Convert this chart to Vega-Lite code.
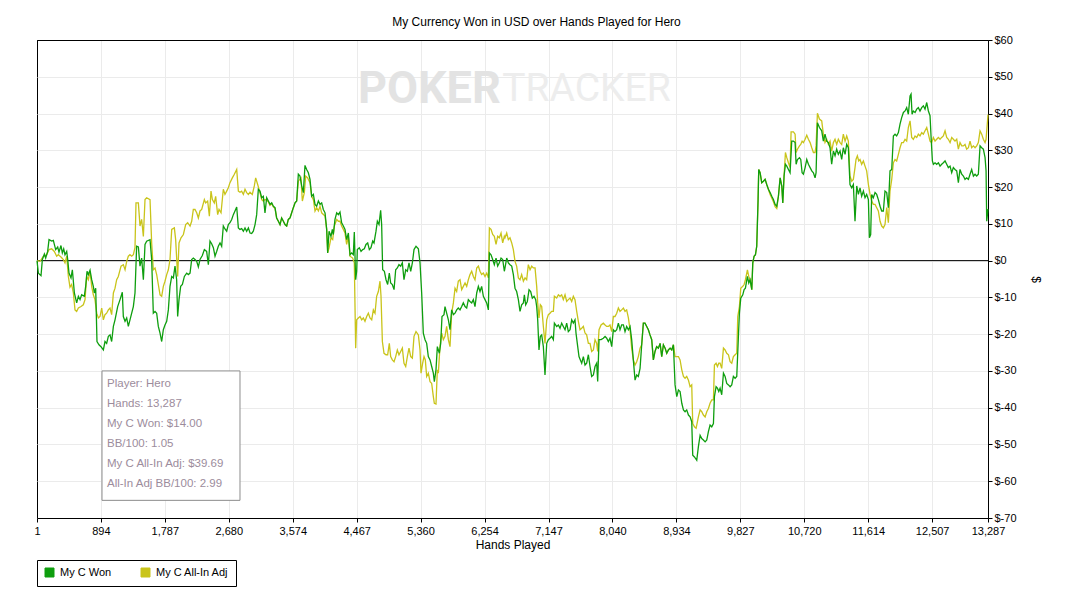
{
  "$schema": "https://vega.github.io/schema/vega-lite/v6.json",
  "width": 951,
  "height": 478,
  "autosize": {"type": "none"},
  "padding": {"left": 37, "top": 40, "right": 84, "bottom": 91},
  "background": "white",
  "title": {
    "text": "My Currency Won in USD over Hands Played for Hero",
    "font": "Liberation Sans",
    "fontSize": 12,
    "fontWeight": "normal",
    "color": "black",
    "offset": 5,
    "dx": 24
  },
  "datasets": {
    "adj": [
      {"h":1,"v":0},{"h":43,"v":-0.2},{"h":90,"v":1.2},{"h":136,"v":1.6},{"h":169,"v":3},{"h":206,"v":3.2},{"h":243,"v":2.5},{"h":276,"v":1.2},{"h":299,"v":1.6},{"h":336,"v":1},{"h":369,"v":0.3},{"h":392,"v":-0.6},{"h":416,"v":1.2},{"h":439,"v":-4.3},{"h":462,"v":-7.2},{"h":485,"v":-6.5},{"h":509,"v":-8.8},{"h":532,"v":-13.4},{"h":555,"v":-13.8},{"h":579,"v":-12.9},{"h":616,"v":-12.5},{"h":648,"v":-12},{"h":672,"v":-10.6},{"h":695,"v":-4.3},{"h":718,"v":-5.2},{"h":742,"v":-2.9},{"h":765,"v":-7},{"h":788,"v":-9.3},{"h":811,"v":-10.6},{"h":835,"v":-14.3},{"h":858,"v":-15.6},{"h":881,"v":-15.2},{"h":905,"v":-12.9},{"h":928,"v":-16.1},{"h":951,"v":-14.7},{"h":974,"v":-14.3},{"h":998,"v":-13.4},{"h":1021,"v":-12.9},{"h":1044,"v":-14.7},{"h":1068,"v":-8.8},{"h":1091,"v":-7.5},{"h":1114,"v":-5.2},{"h":1137,"v":-4.3},{"h":1175,"v":-1.5},{"h":1207,"v":-1.1},{"h":1231,"v":-2.5},{"h":1254,"v":-0.2},{"h":1277,"v":1.2},{"h":1300,"v":1.6},{"h":1324,"v":1.2},{"h":1347,"v":1.6},{"h":1370,"v":3.5},{"h":1384,"v":15.7},{"h":1417,"v":15.7},{"h":1440,"v":9.4},{"h":1463,"v":11.2},{"h":1487,"v":6.6},{"h":1510,"v":16.6},{"h":1533,"v":17.1},{"h":1580,"v":16.6},{"h":1603,"v":4.8},{"h":1626,"v":-2.5},{"h":1650,"v":-2},{"h":1673,"v":-3.8},{"h":1696,"v":-6.5},{"h":1720,"v":-9.3},{"h":1743,"v":-9.7},{"h":1766,"v":-7},{"h":1789,"v":-5.6},{"h":1813,"v":-3.8},{"h":1836,"v":-2.5},{"h":1859,"v":0.3},{"h":1883,"v":8.5},{"h":1920,"v":8.9},{"h":1938,"v":5.7},{"h":1966,"v":-4.3},{"h":1985,"v":4.8},{"h":2013,"v":6.2},{"h":2046,"v":7.1},{"h":2078,"v":9.8},{"h":2106,"v":10.3},{"h":2139,"v":9.4},{"h":2162,"v":10.7},{"h":2185,"v":13.9},
      {"h":2208,"v":13.9},{"h":2232,"v":13},{"h":2255,"v":11.6},{"h":2278,"v":13.5},{"h":2302,"v":13.9},{"h":2339,"v":16.6},{"h":2357,"v":15.7},{"h":2385,"v":16.2},{"h":2409,"v":12.1},{"h":2432,"v":18.9},{"h":2451,"v":16.6},{"h":2478,"v":15.7},{"h":2497,"v":17.5},{"h":2525,"v":12.5},{"h":2544,"v":13.9},{"h":2572,"v":13},{"h":2604,"v":19.4},{"h":2627,"v":18},{"h":2651,"v":18.9},{"h":2674,"v":19.8},{"h":2697,"v":21.2},{"h":2730,"v":22.5},{"h":2758,"v":23.5},{"h":2791,"v":24.8},{"h":2814,"v":18.9},{"h":2837,"v":18.6},{"h":2860,"v":18.9},{"h":2884,"v":18},{"h":2907,"v":19.4},{"h":2930,"v":18.5},{"h":2954,"v":18},{"h":2977,"v":18.6},{"h":3009,"v":18},{"h":3037,"v":20.3},{"h":3056,"v":22.5},{"h":3084,"v":20.7},{"h":3116,"v":18.5},{"h":3140,"v":16.6},{"h":3163,"v":16.2},{"h":3186,"v":16.6},{"h":3210,"v":16.5},{"h":3233,"v":16},{"h":3256,"v":15},{"h":3280,"v":15.5},{"h":3303,"v":14.6},{"h":3326,"v":14.2},{"h":3349,"v":11.6},{"h":3373,"v":10.7},{"h":3396,"v":9.8},{"h":3419,"v":11.6},{"h":3443,"v":10.7},{"h":3466,"v":9.8},{"h":3489,"v":9.4},{"h":3512,"v":11.2},{"h":3536,"v":11.6},{"h":3559,"v":13},{"h":3582,"v":14.4},{"h":3606,"v":15.7},{"h":3629,"v":16.2},{"h":3652,"v":21.6},{"h":3689,"v":22.5},{"h":3708,"v":16.2},{"h":3736,"v":18.5},{"h":3755,"v":23},{"h":3782,"v":22.5},{"h":3815,"v":21.2},{"h":3838,"v":17.5},{"h":3862,"v":16.6},{"h":3885,"v":13.5},{"h":3908,"v":14.4},{"h":3932,"v":13.5},{"h":3955,"v":14.8},{"h":3978,"v":13},{"h":4025,"v":12.1},{"h":4048,"v":8.5},{"h":4062,"v":2.1},{"h":4081,"v":3.5},{"h":4108,"v":6.2},{"h":4132,"v":5.7},{"h":4155,"v":9.4},{"h":4188,"v":11.2},{"h":4211,"v":10.7},{"h":4234,"v":10.7},{"h":4257,"v":9.4},{"h":4281,"v":8.5},{"h":4304,"v":7.5},{"h":4327,"v":4.4},{"h":4351,"v":6.6},
      {"h":4374,"v":1.2},{"h":4411,"v":0.7},{"h":4434,"v":-0.6},{"h":4453,"v":-23.8},{"h":4467,"v":-16.1},{"h":4490,"v":-15.6},{"h":4514,"v":-15.2},{"h":4537,"v":-16.1},{"h":4560,"v":-15.6},{"h":4583,"v":-16.5},{"h":4607,"v":-15.2},{"h":4630,"v":-14.3},{"h":4653,"v":-15.6},{"h":4677,"v":-16.1},{"h":4700,"v":-13.4},{"h":4723,"v":-14.3},{"h":4746,"v":-9.7},{"h":4770,"v":-8.4},{"h":4793,"v":-5.6},{"h":4807,"v":-9.7},{"h":4826,"v":-22},{"h":4849,"v":-25.2},{"h":4877,"v":-25.6},{"h":4900,"v":-25.6},{"h":4923,"v":-22.5},{"h":4942,"v":-26.1},{"h":4965,"v":-27},{"h":4989,"v":-27.5},{"h":5012,"v":-26.1},{"h":5035,"v":-24.3},{"h":5058,"v":-25.6},{"h":5082,"v":-24.7},{"h":5105,"v":-23.8},{"h":5128,"v":-27.9},{"h":5152,"v":-28.8},{"h":5175,"v":-26.1},{"h":5198,"v":-23.8},{"h":5222,"v":-26.1},{"h":5245,"v":-26.5},{"h":5268,"v":-20.6},{"h":5296,"v":-19.3},{"h":5329,"v":-20.2},{"h":5352,"v":-24.3},{"h":5366,"v":-30.6},{"h":5389,"v":-27.9},{"h":5408,"v":-26.1},{"h":5426,"v":-27},{"h":5445,"v":-31.5},{"h":5468,"v":-30.6},{"h":5492,"v":-32.9},{"h":5515,"v":-33.4},{"h":5538,"v":-37},{"h":5552,"v":-38.8},{"h":5575,"v":-39},{"h":5594,"v":-29.7},{"h":5608,"v":-30.6},{"h":5631,"v":-23.4},{"h":5655,"v":-19.7},{"h":5678,"v":-21.5},{"h":5701,"v":-20.6},{"h":5724,"v":-17.9},{"h":5748,"v":-21.5},{"h":5771,"v":-23.4},{"h":5794,"v":-14.3},{"h":5818,"v":-11.5},{"h":5841,"v":-7.5},{"h":5864,"v":-8.4},{"h":5887,"v":-5.6},{"h":5911,"v":-5.2},{"h":5934,"v":-7.9},{"h":5957,"v":-7},{"h":5981,"v":-6.1},{"h":6004,"v":-7},{"h":6027,"v":-5.2},{"h":6050,"v":-3.8},{"h":6074,"v":-2.9},{"h":6097,"v":-4.3},{"h":6120,"v":-5.2},{"h":6144,"v":-2},{"h":6167,"v":-1.5},{"h":6190,"v":-2.9},{"h":6213,"v":-3.8},{"h":6237,"v":-3.4},{"h":6260,"v":-4.3},{"h":6283,"v":-3.4},{"h":6307,"v":-4.7},{"h":6321,"v":8.9},{"h":6344,"v":8.5},{"h":6367,"v":7.1},{"h":6390,"v":6.6},{"h":6414,"v":4.4},{"h":6437,"v":6.6},{"h":6460,"v":6.2},{"h":6484,"v":7.5},{"h":6507,"v":4.8},{"h":6530,"v":6.6},
      {"h":6539,"v":6.2},{"h":6563,"v":7.5},{"h":6586,"v":5.7},{"h":6609,"v":6.2},{"h":6633,"v":4.8},{"h":6656,"v":3},{"h":6679,"v":-0.2},{"h":6702,"v":-1.5},{"h":6726,"v":-4.7},{"h":6749,"v":-5.2},{"h":6772,"v":-3.8},{"h":6796,"v":-5.6},{"h":6819,"v":-4.7},{"h":6842,"v":-5.2},{"h":6865,"v":-1.1},{"h":6889,"v":-2.5},{"h":6912,"v":-1.5},{"h":6935,"v":-2},{"h":6959,"v":-2},{"h":6982,"v":-7},{"h":6996,"v":-11.5},{"h":7014,"v":-15.6},{"h":7033,"v":-12},{"h":7052,"v":-12.5},{"h":7075,"v":-17.9},{"h":7098,"v":-22.5},{"h":7122,"v":-16.1},{"h":7145,"v":-14.7},{"h":7168,"v":-14.3},{"h":7191,"v":-13.8},{"h":7215,"v":-13.8},{"h":7229,"v":-9.7},{"h":7261,"v":-10.2},{"h":7285,"v":-9.3},{"h":7308,"v":-9.7},{"h":7331,"v":-9.3},{"h":7354,"v":-10.6},{"h":7378,"v":-9.3},{"h":7401,"v":-11.1},{"h":7424,"v":-10.6},{"h":7448,"v":-10.2},{"h":7471,"v":-11.1},{"h":7494,"v":-9.7},{"h":7517,"v":-10.6},{"h":7541,"v":-13.8},{"h":7564,"v":-16.5},{"h":7587,"v":-18.8},{"h":7611,"v":-18.4},{"h":7634,"v":-17.9},{"h":7657,"v":-19.7},{"h":7680,"v":-20.2},{"h":7704,"v":-22.5},{"h":7727,"v":-22.5},{"h":7750,"v":-24.7},{"h":7774,"v":-24.3},{"h":7797,"v":-21.5},{"h":7820,"v":-22.5},{"h":7834,"v":-24.7},{"h":7853,"v":-18.8},{"h":7881,"v":-17.5},{"h":7913,"v":-17},{"h":7937,"v":-17.5},{"h":7960,"v":-17.9},{"h":7983,"v":-17.9},{"h":8006,"v":-17.5},{"h":8030,"v":-19.3},{"h":8053,"v":-15.2},{"h":8076,"v":-15.2},{"h":8100,"v":-14.3},{"h":8123,"v":-12.9},{"h":8146,"v":-13.8},{"h":8169,"v":-13.4},{"h":8193,"v":-12.9},{"h":8216,"v":-13.8},{"h":8239,"v":-13.4},{"h":8263,"v":-15.6},{"h":8286,"v":-18.8},{"h":8309,"v":-23.8},{"h":8332,"v":-27},{"h":8356,"v":-28.4},{"h":8379,"v":-27.5},{"h":8402,"v":-26.1},{"h":8426,"v":-23.8},{"h":8449,"v":-22.9},{"h":8472,"v":-17},{"h":8495,"v":-17},{"h":8519,"v":-17.9},{"h":8542,"v":-18.8},{"h":8565,"v":-20.2},{"h":8589,"v":-21.5},{"h":8612,"v":-27},{"h":8635,"v":-24.7},{"h":8658,"v":-23.4},{"h":8682,"v":-23.8},
      {"h":8706,"v":-22.5},{"h":8729,"v":-26.1},{"h":8752,"v":-22.9},{"h":8776,"v":-23.8},{"h":8799,"v":-25.2},{"h":8822,"v":-24.3},{"h":8846,"v":-23.8},{"h":8869,"v":-24.3},{"h":8892,"v":-22.9},{"h":8915,"v":-26.1},{"h":8939,"v":-26.1},{"h":8962,"v":-26.1},{"h":8985,"v":-27},{"h":9009,"v":-29.7},{"h":9032,"v":-31.5},{"h":9055,"v":-32},{"h":9078,"v":-31.5},{"h":9102,"v":-32.5},{"h":9125,"v":-34.3},{"h":9148,"v":-33.8},{"h":9162,"v":-44.3},{"h":9186,"v":-45.2},{"h":9209,"v":-45.6},{"h":9241,"v":-42.5},{"h":9265,"v":-40.6},{"h":9288,"v":-41.1},{"h":9311,"v":-42},{"h":9335,"v":-42.5},{"h":9358,"v":-41.1},{"h":9381,"v":-40.2},{"h":9404,"v":-38.8},{"h":9428,"v":-37.9},{"h":9451,"v":-37.9},{"h":9465,"v":-28.4},{"h":9488,"v":-27.9},{"h":9507,"v":-28.8},{"h":9526,"v":-27.9},{"h":9544,"v":-27.9},{"h":9567,"v":-29.3},{"h":9591,"v":-23.8},{"h":9614,"v":-24.3},{"h":9637,"v":-25.2},{"h":9661,"v":-25.6},{"h":9684,"v":-27.5},{"h":9707,"v":-27.9},{"h":9730,"v":-26.1},{"h":9754,"v":-25.6},{"h":9777,"v":-25.2},{"h":9791,"v":-15.2},{"h":9814,"v":-12.5},{"h":9833,"v":-7.5},{"h":9861,"v":-7},{"h":9880,"v":-6.5},{"h":9898,"v":-5.2},{"h":9926,"v":-2.5},{"h":9945,"v":-4.3},{"h":9963,"v":-5.2},{"h":9987,"v":-7.9},{"h":10001,"v":-0.6},{"h":10019,"v":1.2},{"h":10038,"v":1.6},{"h":10056,"v":3.9},{"h":10075,"v":16.6},{"h":10084,"v":24.8},{"h":10103,"v":23.9},{"h":10126,"v":21.2},{"h":10150,"v":21.6},{"h":10173,"v":22.1},{"h":10196,"v":20.7},{"h":10219,"v":19.4},{"h":10243,"v":18},{"h":10266,"v":17},{"h":10289,"v":16},{"h":10313,"v":14.7},{"h":10336,"v":14.2},{"h":10359,"v":17.5},{"h":10383,"v":22.5},{"h":10406,"v":20.3},{"h":10420,"v":15.7},{"h":10438,"v":23},{"h":10457,"v":29.4},{"h":10476,"v":28},{"h":10499,"v":26.6},{"h":10522,"v":25.3},{"h":10536,"v":35},{"h":10569,"v":35},{"h":10592,"v":34.4},{"h":10606,"v":29.4},{"h":10625,"v":30.3},{"h":10653,"v":31.2},{"h":10671,"v":31.6},{"h":10690,"v":32.5},{"h":10708,"v":32.1},{"h":10732,"v":33},{"h":10755,"v":34.1},{"h":10778,"v":33},{"h":10802,"v":32.1},{"h":10825,"v":30.7},{"h":10848,"v":29.4},{"h":10871,"v":29.4},{"h":10885,"v":31.2},{"h":10904,"v":40.1},{"h":10932,"v":38.5},
      {"h":10964,"v":38},{"h":10987,"v":34.4},{"h":11010,"v":32.1},{"h":11033,"v":33},{"h":11057,"v":31.6},{"h":11080,"v":32.5},{"h":11103,"v":29.8},{"h":11127,"v":32.1},{"h":11150,"v":33},{"h":11173,"v":31.6},{"h":11196,"v":33},{"h":11220,"v":32.1},{"h":11243,"v":31.6},{"h":11266,"v":34.4},{"h":11290,"v":32.5},{"h":11313,"v":33.9},{"h":11336,"v":32.5},{"h":11359,"v":23},{"h":11383,"v":21.6},{"h":11406,"v":22.1},{"h":11429,"v":25.3},{"h":11443,"v":27.5},{"h":11462,"v":28.5},{"h":11481,"v":27.1},{"h":11499,"v":27.5},{"h":11522,"v":26.2},{"h":11546,"v":27.1},{"h":11569,"v":25.7},{"h":11592,"v":24.4},{"h":11616,"v":20.7},{"h":11639,"v":18},{"h":11662,"v":16.2},{"h":11685,"v":15.3},{"h":11709,"v":15.3},{"h":11732,"v":14.4},{"h":11755,"v":13.5},{"h":11779,"v":10.7},{"h":11802,"v":9.4},{"h":11825,"v":8.9},{"h":11848,"v":9.8},{"h":11872,"v":14.4},{"h":11895,"v":10.3},{"h":11918,"v":18.9},{"h":11942,"v":22.1},{"h":11965,"v":26.6},{"h":11988,"v":27.5},{"h":12011,"v":27.1},{"h":12035,"v":28.9},{"h":12058,"v":30.7},{"h":12081,"v":32.1},{"h":12105,"v":32.1},{"h":12128,"v":33},{"h":12151,"v":32.5},{"h":12174,"v":36.2},{"h":12198,"v":38},{"h":12221,"v":33.5},{"h":12244,"v":33},{"h":12268,"v":33.9},{"h":12291,"v":33.5},{"h":12314,"v":34.4},{"h":12337,"v":33.9},{"h":12361,"v":34.8},{"h":12384,"v":34.4},{"h":12407,"v":35.3},{"h":12431,"v":36.2},{"h":12454,"v":34.4},{"h":12477,"v":32.5},{"h":12500,"v":32.1},{"h":12524,"v":33.5},{"h":12547,"v":32.5},{"h":12570,"v":33},{"h":12594,"v":33.5},{"h":12617,"v":33},{"h":12640,"v":33.5},{"h":12663,"v":33.9},{"h":12687,"v":35.3},{"h":12710,"v":33.5},{"h":12733,"v":33},{"h":12757,"v":32.1},{"h":12780,"v":33.5},{"h":12803,"v":33},{"h":12826,"v":32.5},{"h":12850,"v":33},{"h":12873,"v":30.3},{"h":12896,"v":32.1},{"h":12920,"v":31.2},{"h":12943,"v":31.2},{"h":12966,"v":31.6},{"h":12989,"v":30.3},{"h":13013,"v":30.7},{"h":13036,"v":32.5},{"h":13059,"v":30.7},{"h":13083,"v":31.2},{"h":13106,"v":30.7},{"h":13129,"v":31.2},{"h":13152,"v":32.1},{"h":13176,"v":35.3},{"h":13199,"v":34.4},{"h":13222,"v":33},{"h":13246,"v":32.1},{"h":13260,"v":33},{"h":13287,"v":39.7}
    ],
    "won": [
      {"h":1,"v":0},{"h":20,"v":-3.4},{"h":57,"v":-4.1},{"h":76,"v":0.3},{"h":104,"v":1.8},{"h":122,"v":0.7},{"h":150,"v":2.5},{"h":169,"v":5.7},{"h":206,"v":5.3},{"h":229,"v":5.5},{"h":262,"v":3},{"h":290,"v":3.7},{"h":308,"v":2.3},{"h":336,"v":4.1},{"h":355,"v":2.1},{"h":374,"v":3.2},{"h":392,"v":1.6},{"h":416,"v":2.5},{"h":430,"v":0.3},{"h":448,"v":-3.4},{"h":476,"v":-4.7},{"h":495,"v":-2.5},{"h":523,"v":-8.8},{"h":555,"v":-11.5},{"h":579,"v":-9.7},{"h":602,"v":-10.6},{"h":625,"v":-9.3},{"h":662,"v":-9.7},{"h":681,"v":-7},{"h":700,"v":-2.9},{"h":718,"v":-3.8},{"h":742,"v":-2.6},{"h":765,"v":-5.2},{"h":788,"v":-7},{"h":802,"v":-8.8},{"h":821,"v":-7.5},{"h":839,"v":-22},{"h":867,"v":-22.9},{"h":895,"v":-23.4},{"h":928,"v":-24.3},{"h":951,"v":-22},{"h":974,"v":-22.5},{"h":998,"v":-20.6},{"h":1021,"v":-20.2},{"h":1044,"v":-22},{"h":1068,"v":-17.9},{"h":1091,"v":-16.1},{"h":1128,"v":-12.5},{"h":1161,"v":-10.6},{"h":1193,"v":-8.6},{"h":1207,"v":-15.2},{"h":1231,"v":-16.5},{"h":1254,"v":-15.6},{"h":1277,"v":-17.9},{"h":1300,"v":-16.1},{"h":1324,"v":-14.3},{"h":1347,"v":-12.5},{"h":1370,"v":-8.8},{"h":1393,"v":3.9},{"h":1417,"v":3.7},{"h":1440,"v":-1.5},{"h":1463,"v":0.7},{"h":1487,"v":-5.2},{"h":1510,"v":4.4},{"h":1533,"v":5.3},{"h":1580,"v":5.7},{"h":1603,"v":0.3},{"h":1626,"v":-14.3},{"h":1650,"v":-13.8},{"h":1673,"v":-14.3},{"h":1696,"v":-17.9},{"h":1720,"v":-19.7},{"h":1743,"v":-22},{"h":1766,"v":-18.8},{"h":1789,"v":-17.5},{"h":1813,"v":-16.5},{"h":1836,"v":-13.4},{"h":1859,"v":-7},{"h":1883,"v":-4.3},{"h":1906,"v":-4.7},{"h":1929,"v":-1.5},{"h":1952,"v":-5.2},{"h":1966,"v":-15.2},{"h":1985,"v":-10.6},{"h":2008,"v":-7},{"h":2032,"v":-6.5},{"h":2060,"v":-4.3},{"h":2092,"v":-3.4},{"h":2115,"v":-3.8},{"h":2139,"v":-3.4},{"h":2162,"v":0.3},{"h":2185,"v":0.7},
      {"h":2208,"v":0.3},{"h":2232,"v":-0.2},{"h":2255,"v":-1.7},{"h":2278,"v":0.3},{"h":2311,"v":1.4},{"h":2339,"v":3},{"h":2371,"v":2.5},{"h":2395,"v":-1.1},{"h":2418,"v":5.3},{"h":2441,"v":4.6},{"h":2465,"v":3.5},{"h":2488,"v":1.2},{"h":2511,"v":2.5},{"h":2534,"v":3.9},{"h":2558,"v":4.8},{"h":2581,"v":3.9},{"h":2604,"v":9.4},{"h":2627,"v":8.6},{"h":2651,"v":8},{"h":2674,"v":9.8},{"h":2697,"v":10.3},{"h":2721,"v":11.2},{"h":2744,"v":12.5},{"h":2767,"v":13.5},{"h":2791,"v":14.6},{"h":2814,"v":8.9},{"h":2837,"v":8.5},{"h":2860,"v":8.7},{"h":2884,"v":8},{"h":2907,"v":8.9},{"h":2930,"v":8},{"h":2954,"v":8.9},{"h":2977,"v":7.5},{"h":3000,"v":7.4},{"h":3023,"v":8},{"h":3047,"v":9.8},{"h":3070,"v":12.5},{"h":3093,"v":19.4},{"h":3116,"v":18.9},{"h":3140,"v":17.1},{"h":3163,"v":17.5},{"h":3186,"v":13},{"h":3210,"v":17.1},{"h":3233,"v":16.2},{"h":3256,"v":15.3},{"h":3280,"v":15.7},{"h":3303,"v":14.8},{"h":3326,"v":14.4},{"h":3349,"v":11.6},{"h":3373,"v":10.7},{"h":3396,"v":9.8},{"h":3419,"v":11.6},{"h":3443,"v":10.7},{"h":3466,"v":9.8},{"h":3489,"v":9.4},{"h":3512,"v":11.2},{"h":3536,"v":11.6},{"h":3559,"v":13},{"h":3582,"v":14.4},{"h":3606,"v":15.7},{"h":3629,"v":16.2},{"h":3652,"v":23.5},{"h":3675,"v":23},{"h":3699,"v":20.3},{"h":3722,"v":18.5},{"h":3745,"v":25.9},{"h":3768,"v":24.8},{"h":3792,"v":23.9},{"h":3815,"v":22.1},{"h":3838,"v":17.5},{"h":3862,"v":18},{"h":3885,"v":15.3},{"h":3908,"v":14.8},{"h":3932,"v":16.2},{"h":3955,"v":15.3},{"h":3978,"v":15.7},{"h":4001,"v":13.9},{"h":4025,"v":13},{"h":4048,"v":8.5},{"h":4062,"v":2.1},{"h":4081,"v":8},{"h":4108,"v":6.6},{"h":4127,"v":8.5},{"h":4141,"v":7.1},{"h":4164,"v":11.2},{"h":4188,"v":13},{"h":4211,"v":12.5},{"h":4234,"v":13.2},{"h":4257,"v":10.3},{"h":4281,"v":9.4},{"h":4304,"v":8.5},{"h":4327,"v":5.7},{"h":4351,"v":7.5},
      {"h":4374,"v":1.6},{"h":4397,"v":2.1},{"h":4420,"v":1.6},{"h":4434,"v":7.8},{"h":4453,"v":-5.2},{"h":4467,"v":-2.9},{"h":4476,"v":3},{"h":4504,"v":3.5},{"h":4528,"v":2.5},{"h":4551,"v":3},{"h":4574,"v":3.2},{"h":4597,"v":4.4},{"h":4621,"v":4.8},{"h":4644,"v":3},{"h":4667,"v":3.5},{"h":4691,"v":5.3},{"h":4709,"v":4.8},{"h":4737,"v":8},{"h":4756,"v":10.7},{"h":4779,"v":9.8},{"h":4802,"v":13.7},{"h":4816,"v":9.8},{"h":4830,"v":-2.5},{"h":4854,"v":-2.9},{"h":4877,"v":-5.2},{"h":4900,"v":-6.5},{"h":4923,"v":-3.4},{"h":4942,"v":-6.1},{"h":4965,"v":-6.5},{"h":4989,"v":-7.9},{"h":5012,"v":-2.5},{"h":5035,"v":-2},{"h":5058,"v":-1.1},{"h":5082,"v":-1.5},{"h":5105,"v":-0.6},{"h":5128,"v":-5.2},{"h":5152,"v":-2.5},{"h":5175,"v":-2.9},{"h":5198,"v":-0.6},{"h":5222,"v":-2.9},{"h":5245,"v":-0.6},{"h":5268,"v":3},{"h":5296,"v":3.9},{"h":5329,"v":3.2},{"h":5352,"v":-0.6},{"h":5375,"v":-8.8},{"h":5398,"v":-19.7},{"h":5422,"v":-21.5},{"h":5445,"v":-22.5},{"h":5468,"v":-26.1},{"h":5492,"v":-27},{"h":5515,"v":-28.8},{"h":5538,"v":-30.6},{"h":5552,"v":-32.9},{"h":5575,"v":-29.7},{"h":5594,"v":-23.4},{"h":5622,"v":-25.2},{"h":5641,"v":-22.5},{"h":5659,"v":-15.2},{"h":5687,"v":-14.7},{"h":5701,"v":-12.5},{"h":5724,"v":-14.3},{"h":5748,"v":-16.1},{"h":5771,"v":-18.8},{"h":5794,"v":-13.4},{"h":5818,"v":-14.7},{"h":5841,"v":-14.3},{"h":5864,"v":-13.4},{"h":5887,"v":-12.9},{"h":5911,"v":-13.4},{"h":5934,"v":-12.5},{"h":5957,"v":-11.5},{"h":5981,"v":-12.5},{"h":6004,"v":-12.9},{"h":6027,"v":-10.6},{"h":6050,"v":-11.1},{"h":6074,"v":-11.5},{"h":6097,"v":-10.6},{"h":6120,"v":-12.5},{"h":6144,"v":-8.8},{"h":6167,"v":-7},{"h":6190,"v":-8.4},{"h":6213,"v":-7},{"h":6237,"v":-9.7},{"h":6260,"v":-10.6},{"h":6283,"v":-11.5},{"h":6307,"v":-13.4},{"h":6321,"v":2.1},{"h":6344,"v":1.6},{"h":6367,"v":0.3},{"h":6390,"v":-1.1},{"h":6414,"v":0.7},{"h":6437,"v":-1.5},{"h":6460,"v":-0.6},{"h":6484,"v":0.7},{"h":6507,"v":0.3},{"h":6530,"v":-2.9},
      {"h":6539,"v":-2},{"h":6563,"v":0.7},{"h":6586,"v":-0.6},{"h":6609,"v":-1.1},{"h":6633,"v":-1.5},{"h":6656,"v":-3.8},{"h":6679,"v":-7.5},{"h":6702,"v":-8.4},{"h":6726,"v":-10.6},{"h":6749,"v":-13.8},{"h":6772,"v":-12},{"h":6796,"v":-11.5},{"h":6810,"v":-9.3},{"h":6828,"v":-12},{"h":6851,"v":-11.1},{"h":6875,"v":-7.9},{"h":6898,"v":-8.4},{"h":6921,"v":-10.2},{"h":6945,"v":-9.7},{"h":6968,"v":-10.6},{"h":6982,"v":-12.5},{"h":6996,"v":-16.1},{"h":7014,"v":-24.3},{"h":7033,"v":-20.6},{"h":7052,"v":-20.2},{"h":7075,"v":-23.4},{"h":7098,"v":-31.1},{"h":7122,"v":-22.5},{"h":7145,"v":-21.5},{"h":7168,"v":-21.1},{"h":7191,"v":-20.6},{"h":7215,"v":-21.5},{"h":7229,"v":-17},{"h":7261,"v":-17.9},{"h":7285,"v":-17.5},{"h":7308,"v":-18.4},{"h":7331,"v":-17},{"h":7354,"v":-17.9},{"h":7378,"v":-18.8},{"h":7401,"v":-17},{"h":7424,"v":-19.3},{"h":7448,"v":-18.8},{"h":7471,"v":-16.1},{"h":7494,"v":-17},{"h":7517,"v":-16.1},{"h":7531,"v":-19.7},{"h":7555,"v":-23.4},{"h":7573,"v":-26.1},{"h":7592,"v":-27},{"h":7611,"v":-27.9},{"h":7634,"v":-26.1},{"h":7657,"v":-28.4},{"h":7680,"v":-27.9},{"h":7704,"v":-25.6},{"h":7727,"v":-28.8},{"h":7750,"v":-31.5},{"h":7774,"v":-31.1},{"h":7797,"v":-28.8},{"h":7820,"v":-27.9},{"h":7834,"v":-32.9},{"h":7853,"v":-21.5},{"h":7881,"v":-21.5},{"h":7913,"v":-21.1},{"h":7937,"v":-20.6},{"h":7960,"v":-21.1},{"h":7983,"v":-22},{"h":8006,"v":-21.1},{"h":8030,"v":-23.4},{"h":8053,"v":-18.8},{"h":8076,"v":-19.3},{"h":8100,"v":-18.8},{"h":8123,"v":-17},{"h":8146,"v":-18.8},{"h":8169,"v":-17.5},{"h":8193,"v":-17.5},{"h":8216,"v":-19.3},{"h":8239,"v":-17.9},{"h":8263,"v":-18.8},{"h":8286,"v":-17.9},{"h":8309,"v":-21.5},{"h":8332,"v":-27},{"h":8356,"v":-32.5},{"h":8379,"v":-31.1},{"h":8402,"v":-31.5},{"h":8426,"v":-29.3},{"h":8449,"v":-22.9},{"h":8472,"v":-17},{"h":8495,"v":-17},{"h":8519,"v":-17.9},{"h":8542,"v":-18.8},{"h":8565,"v":-20.2},{"h":8589,"v":-21.5},{"h":8612,"v":-27},{"h":8635,"v":-24.7},{"h":8658,"v":-23.4},{"h":8682,"v":-23.8},
      {"h":8706,"v":-22.5},{"h":8729,"v":-26.1},{"h":8752,"v":-22.9},{"h":8776,"v":-23.8},{"h":8799,"v":-25.2},{"h":8822,"v":-24.3},{"h":8846,"v":-23.8},{"h":8869,"v":-24.3},{"h":8892,"v":-22.9},{"h":8915,"v":-33.8},{"h":8939,"v":-37},{"h":8962,"v":-35.2},{"h":8985,"v":-35.6},{"h":9009,"v":-38.8},{"h":9032,"v":-40.6},{"h":9055,"v":-41.1},{"h":9078,"v":-40.6},{"h":9102,"v":-42},{"h":9125,"v":-42.5},{"h":9148,"v":-43.8},{"h":9162,"v":-52.9},{"h":9186,"v":-53.4},{"h":9218,"v":-54.3},{"h":9241,"v":-50.6},{"h":9265,"v":-47.5},{"h":9288,"v":-48.4},{"h":9311,"v":-48.8},{"h":9335,"v":-49.3},{"h":9358,"v":-48.8},{"h":9381,"v":-46.5},{"h":9404,"v":-44.7},{"h":9428,"v":-45.2},{"h":9451,"v":-44.3},{"h":9465,"v":-37},{"h":9488,"v":-34.3},{"h":9507,"v":-34.7},{"h":9526,"v":-35.6},{"h":9544,"v":-34.7},{"h":9567,"v":-36.5},{"h":9591,"v":-30.6},{"h":9614,"v":-31.5},{"h":9637,"v":-33.4},{"h":9661,"v":-33.8},{"h":9684,"v":-34.3},{"h":9707,"v":-33.8},{"h":9730,"v":-31.5},{"h":9754,"v":-32},{"h":9777,"v":-31.5},{"h":9800,"v":-20.6},{"h":9814,"v":-14.3},{"h":9833,"v":-10.2},{"h":9861,"v":-9.3},{"h":9880,"v":-7.9},{"h":9898,"v":-7.5},{"h":9926,"v":-4.3},{"h":9945,"v":-6.1},{"h":9963,"v":-5.2},{"h":9987,"v":-7.9},{"h":10001,"v":-0.6},{"h":10019,"v":1.2},{"h":10038,"v":1.6},{"h":10056,"v":3.9},{"h":10075,"v":16.6},{"h":10084,"v":24.8},{"h":10103,"v":23.9},{"h":10126,"v":21.2},{"h":10150,"v":21.6},{"h":10173,"v":22.1},{"h":10196,"v":20.7},{"h":10219,"v":19.4},{"h":10243,"v":18.5},{"h":10266,"v":17.5},{"h":10289,"v":16.6},{"h":10313,"v":15.3},{"h":10336,"v":14.8},{"h":10359,"v":17.5},{"h":10383,"v":22.5},{"h":10406,"v":20.3},{"h":10420,"v":15.7},{"h":10438,"v":23},{"h":10457,"v":26.2},{"h":10476,"v":25.7},{"h":10499,"v":24.8},{"h":10522,"v":23.9},{"h":10545,"v":32.5},{"h":10569,"v":32.5},{"h":10592,"v":32.1},{"h":10606,"v":26.2},{"h":10625,"v":27.5},{"h":10653,"v":28},{"h":10671,"v":27.5},{"h":10690,"v":23.9},{"h":10708,"v":23.5},{"h":10732,"v":25.3},{"h":10755,"v":27.5},{"h":10778,"v":26.2},{"h":10802,"v":25.3},{"h":10825,"v":24.4},{"h":10848,"v":23.9},{"h":10871,"v":22.5},{"h":10885,"v":23.9},{"h":10904,"v":37.5},{"h":10932,"v":36.2},
      {"h":10964,"v":35.3},{"h":10987,"v":32.5},{"h":11010,"v":34.4},{"h":11033,"v":32.5},{"h":11057,"v":32.1},{"h":11080,"v":30.7},{"h":11103,"v":26.2},{"h":11127,"v":29.8},{"h":11150,"v":28.5},{"h":11173,"v":30.3},{"h":11196,"v":28.9},{"h":11220,"v":29.8},{"h":11243,"v":27.5},{"h":11266,"v":30.7},{"h":11290,"v":28.9},{"h":11313,"v":31.6},{"h":11336,"v":30.7},{"h":11359,"v":20.7},{"h":11383,"v":19.8},{"h":11406,"v":20.7},{"h":11429,"v":10.7},{"h":11453,"v":20.3},{"h":11476,"v":18},{"h":11499,"v":19.8},{"h":11522,"v":17.5},{"h":11546,"v":18.9},{"h":11569,"v":17.1},{"h":11592,"v":18},{"h":11616,"v":16.6},{"h":11630,"v":6.2},{"h":11648,"v":7.1},{"h":11662,"v":18},{"h":11685,"v":17.1},{"h":11709,"v":18.5},{"h":11732,"v":18},{"h":11755,"v":16.6},{"h":11779,"v":14.8},{"h":11802,"v":13.5},{"h":11825,"v":13.5},{"h":11848,"v":18.9},{"h":11872,"v":18.5},{"h":11895,"v":14.4},{"h":11918,"v":24.4},{"h":11942,"v":24.8},{"h":11965,"v":33.9},{"h":11988,"v":34.4},{"h":12011,"v":33.9},{"h":12035,"v":34.8},{"h":12058,"v":37.1},{"h":12081,"v":38.9},{"h":12105,"v":40.3},{"h":12128,"v":40.7},{"h":12151,"v":41.6},{"h":12174,"v":39.8},{"h":12198,"v":44.8},{"h":12212,"v":45.3},{"h":12226,"v":39.8},{"h":12244,"v":40.7},{"h":12268,"v":40.3},{"h":12291,"v":41.2},{"h":12314,"v":41.6},{"h":12337,"v":40.7},{"h":12361,"v":41.6},{"h":12384,"v":42.1},{"h":12407,"v":41.2},{"h":12431,"v":43},{"h":12454,"v":40.7},{"h":12477,"v":39.4},{"h":12491,"v":33.9},{"h":12510,"v":27.1},{"h":12524,"v":26.2},{"h":12547,"v":26.6},{"h":12570,"v":26.2},{"h":12594,"v":26.6},{"h":12617,"v":25.7},{"h":12640,"v":26.2},{"h":12663,"v":26.6},{"h":12687,"v":27.1},{"h":12710,"v":26.2},{"h":12733,"v":25.3},{"h":12757,"v":25.7},{"h":12780,"v":23.9},{"h":12803,"v":25.3},{"h":12826,"v":24.8},{"h":12850,"v":24.4},{"h":12873,"v":21.2},{"h":12896,"v":24.8},{"h":12920,"v":23.5},{"h":12943,"v":23},{"h":12966,"v":22.1},{"h":12989,"v":22.5},{"h":13013,"v":22.1},{"h":13036,"v":23.5},{"h":13059,"v":24.8},{"h":13083,"v":23},{"h":13106,"v":23.5},{"h":13129,"v":23},{"h":13152,"v":23.5},{"h":13176,"v":31.2},{"h":13199,"v":30.7},{"h":13222,"v":30.3},{"h":13246,"v":28},{"h":13260,"v":24.4},{"h":13269,"v":10.7},{"h":13287,"v":14}
    ]
  },
  "layer": [
    {
      "data": {"values": [{}]},
      "mark": {"type": "text", "text": "POKER", "font": "Roboto", "fontSize": 45, "fontWeight": "bold", "color": "#E3E3E3", "align": "right", "baseline": "middle"},
      "encoding": {
        "x": {"datum": 6480, "type": "quantitative", "axis": {"orient": "bottom", "title": "Hands Played", "values": [1, 894, 1787, 2680, 3574, 4467, 5360, 6254, 7147, 8040, 8934, 9827, 10720, 11614, 12507, 13287], "format": ",d", "labelOverlap": false, "labelFlush": false}},
        "y": {"datum": 46.6, "type": "quantitative", "axis": {"orient": "right", "title": "$", "values": [-70, -60, -50, -40, -30, -20, -10, 0, 10, 20, 30, 40, 50, 60], "labelExpr": "'$' + datum.value", "labelFlush": false, "labelOverlap": false, "labelPadding": 2, "titlePadding": 12}}
      }
    },
    {
      "data": {"values": [{}]},
      "mark": {"type": "text", "text": "TRACKER", "font": "Roboto", "fontSize": 39, "color": "#EDEDED", "align": "left", "baseline": "middle"},
      "encoding": {
        "x": {"datum": 6500, "type": "quantitative", "axis": {"orient": "bottom", "title": "Hands Played", "values": [1, 894, 1787, 2680, 3574, 4467, 5360, 6254, 7147, 8040, 8934, 9827, 10720, 11614, 12507, 13287], "format": ",d", "labelOverlap": false, "labelFlush": false}},
        "y": {"datum": 46.6, "type": "quantitative", "axis": {"orient": "right", "title": "$", "values": [-70, -60, -50, -40, -30, -20, -10, 0, 10, 20, 30, 40, 50, 60], "labelExpr": "'$' + datum.value", "labelFlush": false, "labelOverlap": false, "labelPadding": 2, "titlePadding": 12}}
      }
    },
    {
      "data": {"values": [{}]},
      "mark": {"type": "rect", "fill": "white", "stroke": "#8C8C8C", "strokeWidth": 1},
      "encoding": {
        "x": {"datum": 909, "type": "quantitative", "axis": {"orient": "bottom", "title": "Hands Played", "values": [1, 894, 1787, 2680, 3574, 4467, 5360, 6254, 7147, 8040, 8934, 9827, 10720, 11614, 12507, 13287], "format": ",d", "labelOverlap": false, "labelFlush": false}},
        "x2": {"datum": 2837},
        "y": {"datum": -30, "type": "quantitative", "axis": {"orient": "right", "title": "$", "values": [-70, -60, -50, -40, -30, -20, -10, 0, 10, 20, 30, 40, 50, 60], "labelExpr": "'$' + datum.value", "labelFlush": false, "labelOverlap": false, "labelPadding": 2, "titlePadding": 12}},
        "y2": {"datum": -65.2}
      }
    },
    {
      "data": {"values": [{}]},
      "mark": {
        "type": "text",
        "text": ["Player: Hero", "Hands: 13,287", "My C Won: $14.00", "BB/100: 1.05", "My C All-In Adj: $39.69", "All-In Adj BB/100: 2.99"],
        "font": "Liberation Sans",
        "fontSize": 11.5,
        "color": "#9C8C9C",
        "align": "left",
        "baseline": "top",
        "lineHeight": 20
      },
      "encoding": {
        "x": {"datum": 979, "type": "quantitative", "axis": {"orient": "bottom", "title": "Hands Played", "values": [1, 894, 1787, 2680, 3574, 4467, 5360, 6254, 7147, 8040, 8934, 9827, 10720, 11614, 12507, 13287], "format": ",d", "labelOverlap": false, "labelFlush": false}},
        "y": {"datum": -32, "type": "quantitative", "axis": {"orient": "right", "title": "$", "values": [-70, -60, -50, -40, -30, -20, -10, 0, 10, 20, 30, 40, 50, 60], "labelExpr": "'$' + datum.value", "labelFlush": false, "labelOverlap": false, "labelPadding": 2, "titlePadding": 12}}
      }
    },
    {
      "data": {"values": [{}]},
      "mark": {"type": "rule", "color": "black", "strokeWidth": 1},
      "encoding": {
        "y": {"datum": 0, "type": "quantitative", "axis": {"orient": "right", "title": "$", "values": [-70, -60, -50, -40, -30, -20, -10, 0, 10, 20, 30, 40, 50, 60], "labelExpr": "'$' + datum.value", "labelFlush": false, "labelOverlap": false, "labelPadding": 2, "titlePadding": 12}}
      }
    },
    {
      "data": {"name": "adj"},
      "mark": {"type": "line", "strokeWidth": 1.3, "interpolate": "linear"},
      "encoding": {
        "x": {"field": "h", "type": "quantitative", "axis": {"orient": "bottom", "title": "Hands Played", "values": [1, 894, 1787, 2680, 3574, 4467, 5360, 6254, 7147, 8040, 8934, 9827, 10720, 11614, 12507, 13287], "format": ",d", "labelOverlap": false, "labelFlush": false}},
        "y": {"field": "v", "type": "quantitative", "axis": {"orient": "right", "title": "$", "values": [-70, -60, -50, -40, -30, -20, -10, 0, 10, 20, 30, 40, 50, 60], "labelExpr": "'$' + datum.value", "labelFlush": false, "labelOverlap": false, "labelPadding": 2, "titlePadding": 12}},
        "color": {"datum": "My C All-In Adj"}
      }
    },
    {
      "data": {"name": "won"},
      "mark": {"type": "line", "strokeWidth": 1.3, "interpolate": "linear"},
      "encoding": {
        "x": {
          "field": "h",
          "type": "quantitative",
          "scale": {"domain": [1, 13287], "nice": false, "zero": false},
          "axis": {"orient": "bottom", "title": "Hands Played", "values": [1, 894, 1787, 2680, 3574, 4467, 5360, 6254, 7147, 8040, 8934, 9827, 10720, 11614, 12507, 13287], "format": ",d", "labelOverlap": false, "labelFlush": false, "gridColor": {"condition": {"test": "datum.value == 1", "value": "black"}, "value": "#EBEBEB"}}
        },
        "y": {
          "field": "v",
          "type": "quantitative",
          "scale": {"domain": [-70, 60], "nice": false, "zero": false},
          "axis": {"orient": "right", "title": "$", "values": [-70, -60, -50, -40, -30, -20, -10, 0, 10, 20, 30, 40, 50, 60], "labelExpr": "'$' + datum.value", "labelFlush": false, "labelOverlap": false, "labelPadding": 2, "titlePadding": 12, "gridColor": {"condition": {"test": "datum.value == 60", "value": "black"}, "value": "#EBEBEB"}}
        },
        "color": {
          "datum": "My C Won",
          "scale": {"domain": ["My C Won", "My C All-In Adj"], "range": ["#0E9E0E", "#C9C41A"]},
          "legend": {
            "title": null,
            "orient": "none",
            "legendX": 0,
            "legendY": 520,
            "direction": "horizontal",
            "columns": 2,
            "padding": 7,
            "columnPadding": 27,
            "strokeColor": "black",
            "fillColor": "white",
            "symbolType": "square",
            "symbolSize": 81,
            "symbolStrokeColor": "black",
            "symbolStrokeWidth": 1,
            "labelFont": "Liberation Sans",
            "labelFontSize": 11,
            "labelColor": "black",
            "labelOffset": 5,
            "encode": {
              "symbols": {
                "update": {
                  "fill": {"scale": "color", "field": "value"},
                  "stroke": {"value": "black"},
                  "strokeWidth": {"value": 1},
                  "opacity": {"value": 1}
                }
              }
            }
          }
        }
      }
    }
  ],
  "config": {
    "view": {"stroke": "black", "strokeWidth": 1},
    "axis": {
      "grid": true,
      "gridColor": "#EBEBEB",
      "gridWidth": 1,
      "domainColor": "black",
      "tickColor": "black",
      "tickSize": 4,
      "labelFont": "Liberation Sans",
      "labelFontSize": 11,
      "labelColor": "black",
      "labelOverlap": false,
      "titleFont": "Liberation Sans",
      "titleFontSize": 12,
      "titleFontWeight": "normal",
      "titleColor": "black"
    },
    "axisX": {"labelPadding": 3, "titlePadding": 3}
  }
}
